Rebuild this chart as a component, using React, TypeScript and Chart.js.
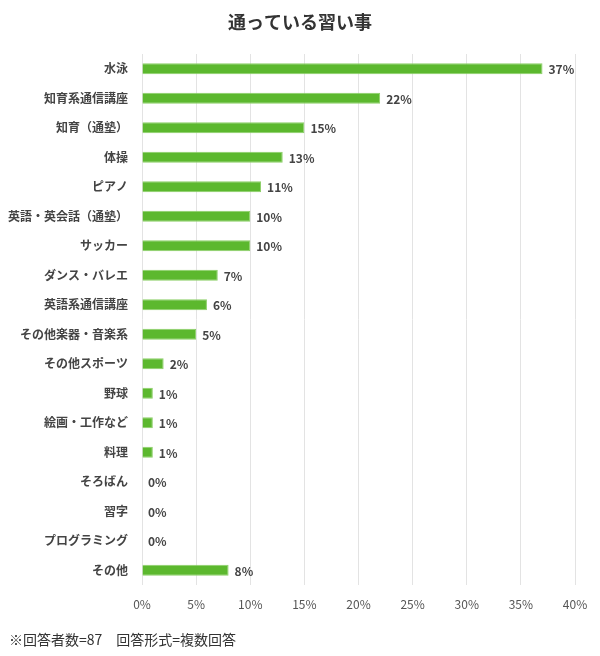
import React, { useEffect, useRef } from "react";
import { Chart, registerables, type ChartConfiguration, type Plugin } from "chart.js";

Chart.register(...registerables);

const categories = [
  "水泳",
  "知育系通信講座",
  "知育（通塾）",
  "体操",
  "ピアノ",
  "英語・英会話（通塾）",
  "サッカー",
  "ダンス・バレエ",
  "英語系通信講座",
  "その他楽器・音楽系",
  "その他スポーツ",
  "野球",
  "絵画・工作など",
  "料理",
  "そろばん",
  "習字",
  "プログラミング",
  "その他",
];
const percents = [37, 22, 15, 13, 11, 10, 10, 7, 6, 5, 2, 1, 1, 1, 0, 0, 0, 8];
const xTicks = [0, 5, 10, 15, 20, 25, 30, 35, 40];
const titleText = "通っている習い事";
const noteText = "※回答者数=87　回答形式=複数回答";

const FONT = "'Noto Sans CJK JP', 'Noto Sans', sans-serif";

// draws "37%" right after each bar
const valueLabels: Plugin<"bar"> = {
  id: "valueLabels",
  afterDatasetsDraw(chart) {
    const { ctx } = chart;
    const meta = chart.getDatasetMeta(0);
    ctx.save();
    ctx.font = `bold 12px ${FONT}`;
    ctx.fillStyle = "#444";
    ctx.textAlign = "left";
    ctx.textBaseline = "middle";
    meta.data.forEach((bar, i) => {
      const p = bar.getProps(["x", "y"], true);
      ctx.fillText(`${percents[i]}%`, p.x + 6, p.y + 1);
    });
    ctx.restore();
  },
};

// title centred on the whole canvas, footnote at bottom left
const headerFooter: Plugin<"bar"> = {
  id: "headerFooter",
  afterDraw(chart) {
    const { ctx, width, height } = chart;
    ctx.save();
    ctx.textBaseline = "middle";
    ctx.fillStyle = "#333";
    ctx.textAlign = "center";
    ctx.font = `bold 18px ${FONT}`;
    ctx.fillText(titleText, width / 2, 22);
    ctx.textAlign = "left";
    ctx.font = `14px ${FONT}`;
    ctx.fillText(noteText, 9, height - 16);
    ctx.restore();
  },
};

export default function App() {
  const canvasRef = useRef<HTMLCanvasElement | null>(null);
  const chartRef = useRef<Chart<"bar"> | null>(null);

  useEffect(() => {
    document.body.style.margin = "0";
    if (!canvasRef.current) return;

    const config: ChartConfiguration<"bar"> = {
      type: "bar",
      data: {
        labels: categories,
        datasets: [
          {
            data: percents,
            backgroundColor: "#5cb82e",
            borderColor: "#8ccf68",
            borderWidth: 1,
            categoryPercentage: 1,
            barPercentage: 0.37,
          },
        ],
      },
      options: {
        indexAxis: "y",
        responsive: false,
        animation: false,
        layout: { padding: { left: 0, right: 25, top: 54, bottom: 35 } },
        plugins: {
          legend: { display: false },
          tooltip: { enabled: false },
        },
        scales: {
          x: {
            min: 0,
            max: 40,
            afterBuildTicks: (scale) => {
              scale.ticks = xTicks.map((v) => ({ value: v }));
            },
            afterFit: (scale) => {
              scale.height = 36;
            },
            grid: { color: "#e3e3e3", drawTicks: false },
            border: { display: false },
            ticks: {
              padding: 12,
              color: "#555",
              font: { family: FONT, size: 12 },
              callback: (v) => `${v}%`,
            },
          },
          y: {
            afterFit: (scale) => {
              scale.width = 142;
            },
            grid: { display: false, drawTicks: false },
            border: { display: false },
            ticks: {
              padding: 14,
              color: "#444",
              font: { family: FONT, size: 12, weight: "bold" },
            },
          },
        },
      },
      plugins: [valueLabels, headerFooter],
    };

    chartRef.current = new Chart(canvasRef.current, config);

    return () => {
      chartRef.current?.destroy();
      chartRef.current = null;
    };
  }, []);

  return (
    <div style={{ width: 600, height: 656 }}>
      <canvas ref={canvasRef} width={600} height={656} aria-label={titleText} />
    </div>
  );
}
